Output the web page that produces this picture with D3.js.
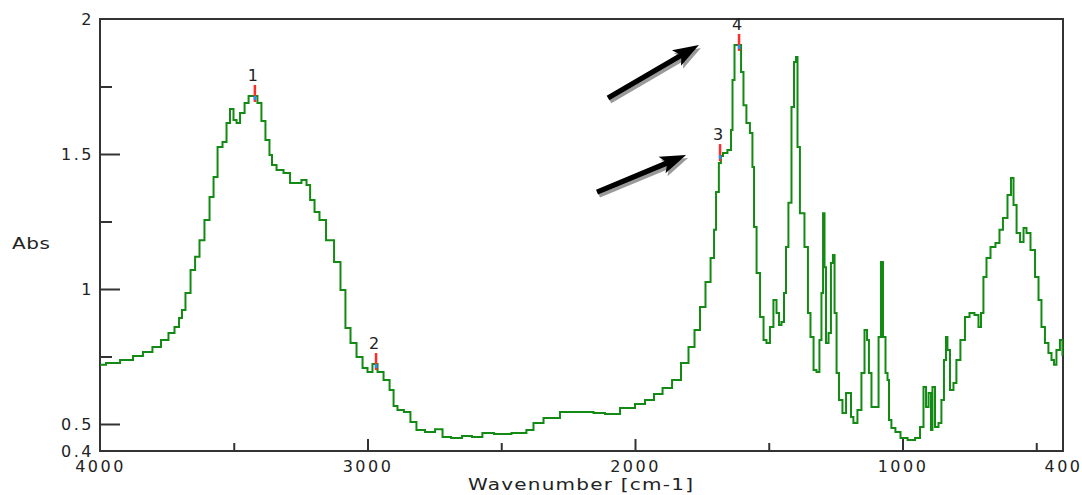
<!DOCTYPE html>
<html>
<head>
<meta charset="utf-8">
<script src="https://cdn.jsdelivr.net/npm/d3@7"></script>
<style>
  body { margin: 0; background: #fff; }
  text { font-family: "DejaVu Sans", Arial, sans-serif; fill: #222; }
</style>
</head>
<body>
<div id="chart"></div>
<script>
// spectrum
const wavenumbers = [
  4000, 3955, 3895, 3858, 3821, 3787, 3757, 3731, 3712, 3697, 3690, 3671, 3652, 3637, 3619, 3600,
  3581, 3570, 3551, 3533, 3521, 3507, 3495, 3484, 3469, 3450, 3439, 3421, 3402, 3391, 3372, 3361,
  3353, 3327, 3301, 3278, 3260, 3234, 3222, 3207, 3189, 3170, 3140, 3110, 3092, 3073, 3054, 3028,
  3009, 2991, 2972, 2953, 2927, 2908, 2897, 2879, 2849, 2830, 2804, 2766, 2729, 2710, 2665, 2628,
  2591, 2550, 2505, 2419, 2393, 2366, 2318, 2243, 2179, 2131, 2093, 2019, 1981, 1944, 1914, 1880,
  1843, 1813, 1787, 1768, 1746, 1727, 1708, 1701, 1693, 1680, 1678, 1664, 1645, 1637, 1634, 1622,
  1607, 1600, 1589, 1578, 1563, 1559, 1551, 1540, 1525, 1514, 1503, 1488, 1477, 1465, 1458, 1447,
  1439, 1432, 1421, 1409, 1402, 1394, 1391, 1376, 1357, 1350, 1338, 1327, 1316, 1305, 1301, 1293,
  1290, 1282, 1271, 1264, 1256, 1252, 1241, 1234, 1215, 1207, 1196, 1189, 1178, 1159, 1148, 1136,
  1129, 1122, 1110, 1095, 1084, 1077, 1069, 1058, 1054, 1047, 1036, 1017, 998, 964, 942, 927,
  916, 908, 897, 890, 886, 871, 860, 849, 841, 834, 830, 815, 804, 793, 774, 759,
  740, 722, 710, 703, 692, 680, 662, 643, 632, 617, 598, 591, 579, 568, 553, 542,
  531, 512, 497, 486, 475, 460, 449, 437, 430, 419, 404, 400
];
const absorbance = [
  0.719, 0.726, 0.737, 0.752, 0.767, 0.785, 0.811, 0.837, 0.859, 0.893, 0.922, 0.985, 1.070, 1.119, 1.181, 1.256,
  1.341, 1.415, 1.526, 1.544, 1.615, 1.667, 1.626, 1.615, 1.652, 1.689, 1.715, 1.715, 1.689, 1.622, 1.552, 1.496,
  1.459, 1.441, 1.430, 1.393, 1.393, 1.404, 1.385, 1.330, 1.285, 1.256, 1.181, 1.100, 0.996, 0.856, 0.800, 0.748,
  0.707, 0.693, 0.722, 0.693, 0.663, 0.626, 0.567, 0.552, 0.544, 0.507, 0.478, 0.470, 0.481, 0.452, 0.448, 0.456,
  0.452, 0.467, 0.463, 0.467, 0.478, 0.504, 0.522, 0.544, 0.544, 0.541, 0.537, 0.559, 0.574, 0.589, 0.611, 0.633,
  0.663, 0.726, 0.785, 0.848, 0.933, 1.026, 1.115, 1.219, 1.359, 1.467, 1.493, 1.504, 1.515, 1.589, 1.774, 1.904,
  1.904, 1.804, 1.681, 1.615, 1.578, 1.452, 1.230, 1.059, 0.896, 0.811, 0.800, 0.859, 0.959, 0.911, 0.867, 0.878,
  0.985, 1.156, 1.319, 1.674, 1.841, 1.859, 1.526, 1.281, 1.156, 0.911, 0.822, 0.700, 0.693, 0.811, 0.985, 1.281,
  1.081, 0.800, 0.837, 1.096, 1.126, 0.911, 0.689, 0.589, 0.541, 0.615, 0.615, 0.526, 0.504, 0.552, 0.689, 0.848,
  0.811, 0.689, 0.563, 0.563, 0.822, 1.100, 0.822, 0.689, 0.663, 0.515, 0.485, 0.470, 0.448, 0.441, 0.448, 0.489,
  0.637, 0.563, 0.615, 0.478, 0.637, 0.489, 0.504, 0.589, 0.737, 0.822, 0.774, 0.626, 0.652, 0.737, 0.811, 0.896,
  0.911, 0.904, 0.859, 0.911, 1.044, 1.115, 1.156, 1.170, 1.219, 1.263, 1.348, 1.411, 1.311, 1.207, 1.174, 1.226,
  1.207, 1.144, 1.044, 0.959, 0.859, 0.800, 0.763, 0.737, 0.719, 0.774, 0.811, 0.756
];

const peakLabels = ["1", "2", "3", "4"];
const peakWavenumbers = [3421, 2968, 1682, 1611];
const peakAbsorbance = [1.715, 0.722, 1.496, 1.904];

const xTickLabels = [4000, 3000, 2000, 1000, 400];
const xMajorTicks = [3000, 2000, 1000];
const xMinorTicks = [3500, 2500, 1500, 500];
const yTickLabels = [2, 1.5, 1, 0.5, 0.4];
const yMajorTicks = [1.5, 1, 0.5];
const yMinorTicks = [1.75, 1.25, 0.75];

// the two hand drawn arrows, in data units
const arrowFrom = [[2101, 1.707], [2142, 1.359]];
const arrowTo = [[1761, 1.904], [1809, 1.496]];

const width = 1082, height = 495;
const margin = { top: 19, right: 19, bottom: 44, left: 100 };
const ink = "#333";

const svg = d3.select("#chart")
  .append("svg")
    .attr("width", width)
    .attr("height", height);

const x = d3.scaleLinear()
  .domain([4000, 400])
  .range([margin.left, width - margin.right]);

const y = d3.scaleLinear()
  .domain([0.4, 2])
  .range([height - margin.bottom, margin.top]);

// frame
svg.append("rect")
  .attr("x", x(4000))
  .attr("y", y(2))
  .attr("width", x(400) - x(4000))
  .attr("height", y(0.4) - y(2))
  .attr("fill", "none")
  .attr("stroke", ink)
  .attr("stroke-width", 2);

function styleAxis(g) {
  g.select(".domain").remove();
  g.selectAll("line").attr("stroke", ink).attr("stroke-width", 2);
  g.selectAll("text")
    .attr("fill", "#222")
    .style("font-family", '"DejaVu Sans", Arial, sans-serif')
    .style("font-size", "16px")
    .style("letter-spacing", "2.5px");
}

const xAxisG = svg.append("g").attr("transform", `translate(0,${y(0.4)})`);
xAxisG.append("g")
  .call(d3.axisBottom(x).tickValues(xMajorTicks).tickSize(-12).tickFormat(""))
  .call(styleAxis);
xAxisG.append("g")
  .call(d3.axisBottom(x).tickValues(xMinorTicks).tickSize(-8).tickFormat(""))
  .call(styleAxis);
xAxisG.append("g")
  .call(d3.axisBottom(x).tickValues(xTickLabels).tickSize(0).tickPadding(10).tickFormat(d3.format("d")))
  .call(styleAxis);

const yAxisG = svg.append("g").attr("transform", `translate(${x(4000)},0)`);
yAxisG.append("g")
  .call(d3.axisLeft(y).tickValues(yMajorTicks).tickSize(-20).tickFormat(""))
  .call(styleAxis);
yAxisG.append("g")
  .call(d3.axisLeft(y).tickValues(yMinorTicks).tickSize(-12).tickFormat(""))
  .call(styleAxis);
yAxisG.append("g")
  .call(d3.axisLeft(y).tickValues(yTickLabels).tickSize(0).tickPadding(6).tickFormat(d => d))
  .call(styleAxis);

// axis titles, stretched sideways like the original bitmap font
svg.append("g")
  .attr("transform", "translate(12,249) scale(1.25,1)")
  .append("text")
    .attr("textLength", 38 / 1.25)
    .attr("lengthAdjust", "spacing")
    .style("font-size", "16px")
    .text("Abs");

svg.append("g")
  .attr("transform", "translate(468,490) scale(1.25,1)")
  .append("text")
    .attr("textLength", 225 / 1.25)
    .attr("lengthAdjust", "spacing")
    .style("font-size", "16px")
    .text("Wavenumber [cm-1]");

// spectrum
const spectrum = wavenumbers.map((w, i) => ({ w: w, a: absorbance[i] }));

const line = d3.line()
  .x(d => x(d.w))
  .y(d => y(d.a))
  .curve(d3.curveStep);

svg.append("path")
  .datum(spectrum)
  .attr("d", line)
  .attr("fill", "none")
  .attr("stroke", "#138a13")
  .attr("stroke-width", 2);

// peak picks
const peaks = peakLabels.map((p, i) => ({ label: p, w: peakWavenumbers[i], a: peakAbsorbance[i] }));

const pick = svg.selectAll(".peak")
  .data(peaks)
  .enter().append("g")
    .attr("class", "peak")
    .attr("transform", d => `translate(${x(d.w)},${y(d.a)})`);

pick.append("line")
  .attr("y1", -11).attr("y2", 6)
  .attr("stroke", "#ff2a2a")
  .attr("stroke-width", 2.5);

pick.append("line")
  .attr("y1", 0).attr("y2", 4)
  .attr("stroke", "#2a8cff")
  .attr("stroke-width", 2.5);

pick.append("text")
  .attr("x", -2)
  .attr("y", -15)
  .attr("text-anchor", "middle")
  .style("font-size", "16px")
  .text(d => d.label);

// arrows
function arrowPoints(p0, p1) {
  const dx = p1[0] - p0[0], dy = p1[1] - p0[1];
  const len = Math.hypot(dx, dy);
  const ux = dx / len, uy = dy / len, nx = -uy, ny = ux;
  const hw = 2.6, hl = 22, hh = 9;
  const bx = p1[0] - ux * hl, by = p1[1] - uy * hl;
  return [
    [p0[0] + nx * hw, p0[1] + ny * hw],
    [bx + nx * hw, by + ny * hw],
    [bx + nx * hh - ux * 4, by + ny * hh - uy * 4],
    p1,
    [bx - nx * hh - ux * 4, by - ny * hh - uy * 4],
    [bx - nx * hw, by - ny * hw],
    [p0[0] - nx * hw, p0[1] - ny * hw]
  ];
}

const arrowData = arrowFrom.map((f, i) => arrowPoints(
  [x(f[0]), y(f[1])],
  [x(arrowTo[i][0]), y(arrowTo[i][1])]
));

svg.selectAll(".arrow-shadow")
  .data(arrowData)
  .enter().append("polygon")
    .attr("class", "arrow-shadow")
    .attr("transform", "translate(2,3)")
    .attr("points", d => d.map(p => p.join(",")).join(" "))
    .attr("fill", "#9a9a9a");

svg.selectAll(".arrow")
  .data(arrowData)
  .enter().append("polygon")
    .attr("class", "arrow")
    .attr("points", d => d.map(p => p.join(",")).join(" "))
    .attr("fill", "#000");
</script>
</body>
</html>
